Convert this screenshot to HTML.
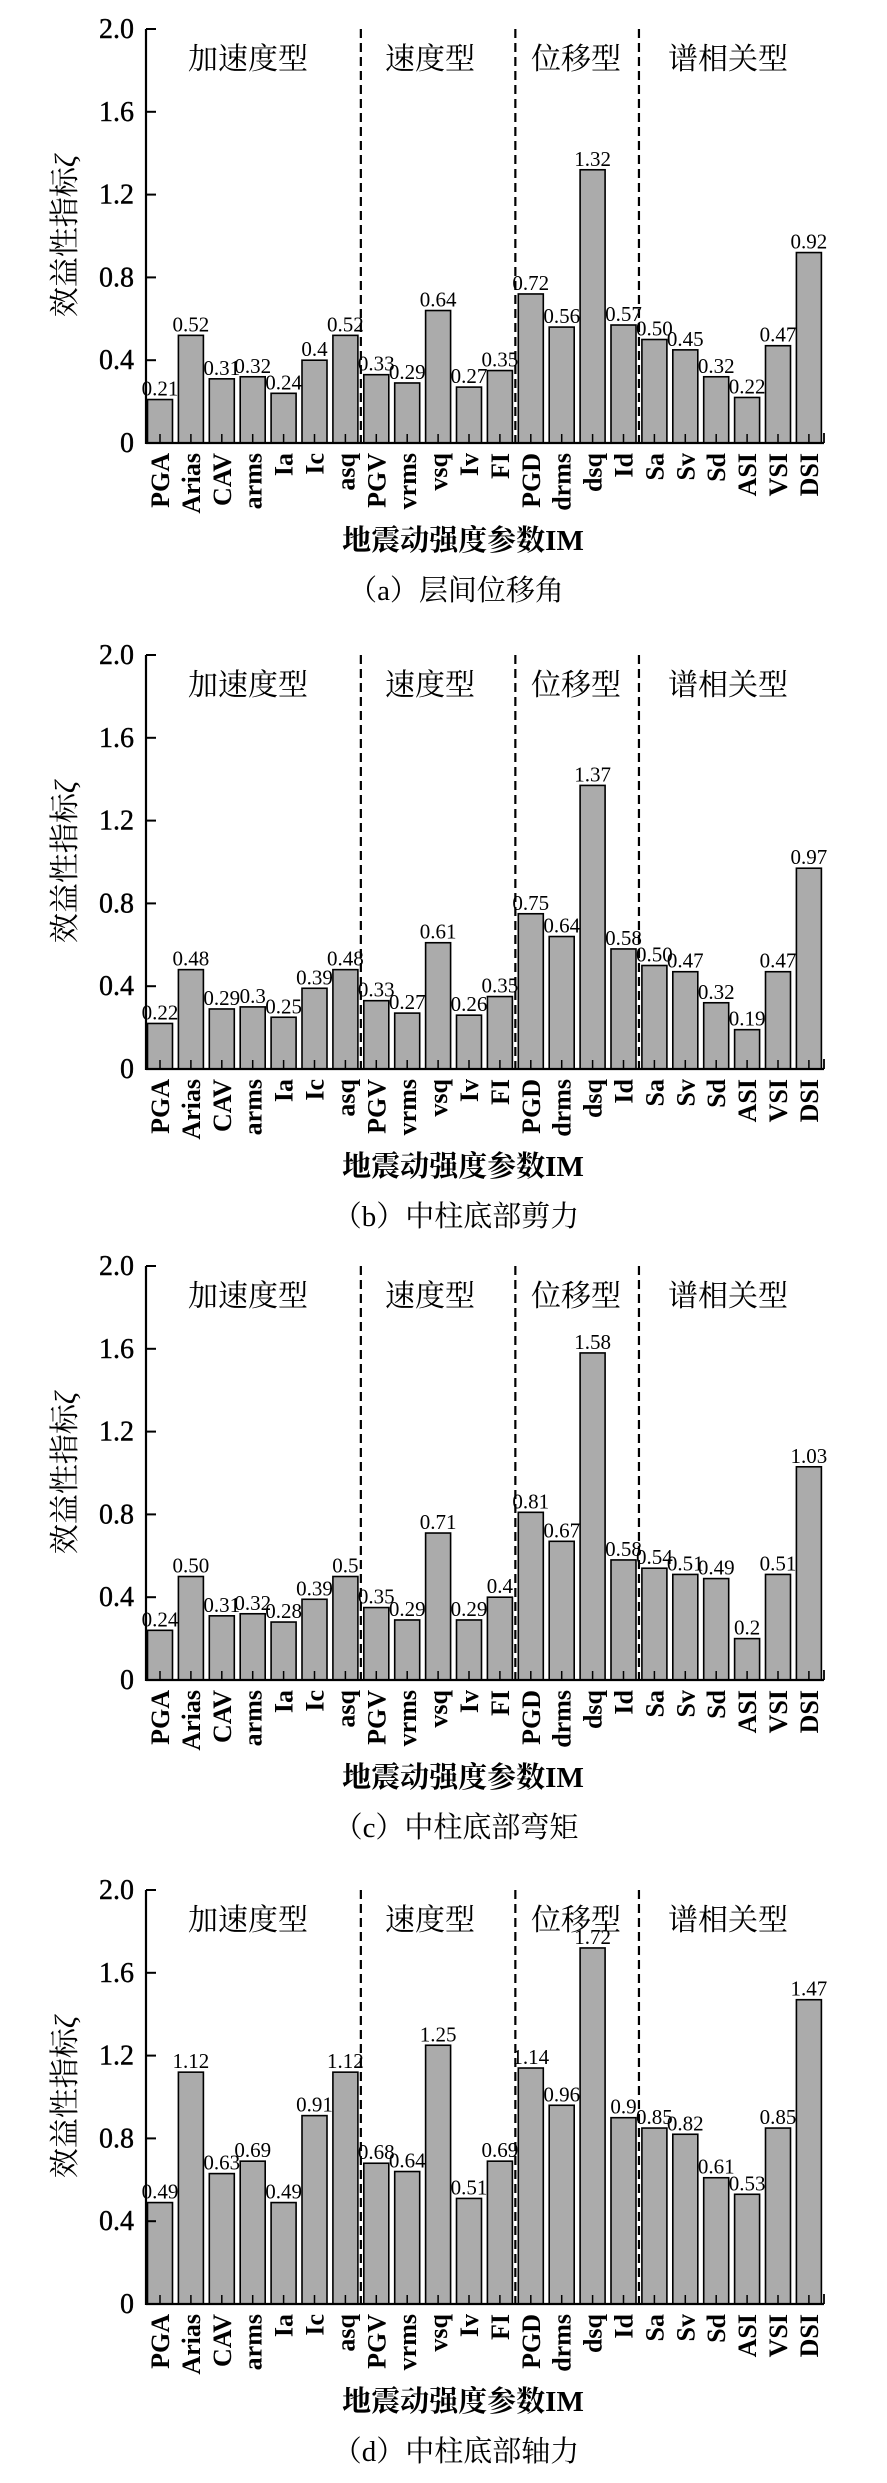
<!DOCTYPE html>
<html><head><meta charset="utf-8"><style>
html,body{margin:0;padding:0;background:#fff}
svg{display:block}
text{font-family:"Liberation Serif","Noto Serif CJK SC",serif;fill:#000}
</style></head><body>
<svg id="s" width="887" height="2483" viewBox="0 0 887 2483" xmlns="http://www.w3.org/2000/svg"></svg>
<script>
var names=["PGA","Arias","CAV","arms","Ia","Ic","asq","PGV","vrms","vsq","Iv","FI","PGD","drms","dsq","Id","Sa","Sv","Sd","ASI","VSI","DSI"];
var data=[
["0.21","0.52","0.31","0.32","0.24","0.4","0.52","0.33","0.29","0.64","0.27","0.35","0.72","0.56","1.32","0.57","0.50","0.45","0.32","0.22","0.47","0.92"],
["0.22","0.48","0.29","0.3","0.25","0.39","0.48","0.33","0.27","0.61","0.26","0.35","0.75","0.64","1.37","0.58","0.50","0.47","0.32","0.19","0.47","0.97"],
["0.24","0.50","0.31","0.32","0.28","0.39","0.5","0.35","0.29","0.71","0.29","0.4","0.81","0.67","1.58","0.58","0.54","0.51","0.49","0.2","0.51","1.03"],
["0.49","1.12","0.63","0.69","0.49","0.91","1.12","0.68","0.64","1.25","0.51","0.69","1.14","0.96","1.72","0.9","0.85","0.82","0.61","0.53","0.85","1.47"]];
var caps=["（a）层间位移角","（b）中柱底部剪力","（c）中柱底部弯矩","（d）中柱底部轴力"];
var tops=[29,655,1266,1890];
var h=[];
var X0=146,X1=824,P=30.9,C0=160;
for(var p=0;p<4;p++){
 var T=tops[p],B=T+414,S=207;
 for(var i=0;i<22;i++){
  var v=parseFloat(data[p][i]),cx=C0+P*i,y=B-v*S;
  h.push('<rect x="'+(cx-12.5)+'" y="'+y+'" width="25" height="'+(B-y)+'" fill="#ababab" stroke="#000" stroke-width="1.6"/>');
  h.push('<text x="'+cx+'" y="'+(y-4)+'" font-size="21" text-anchor="middle">'+data[p][i]+'</text>');
  h.push('<line x1="'+cx+'" y1="'+B+'" x2="'+cx+'" y2="'+(B-9)+'" stroke="#000" stroke-width="1.5"/>');
  h.push('<text transform="translate('+(cx+9)+','+(B+10)+') rotate(-90)" font-size="26" font-weight="bold" text-anchor="end">'+names[i]+'</text>');
 }
 [6,11,15].forEach(function(k){var x=C0+P*k+P/2;
  h.push('<line x1="'+x+'" y1="'+T+'" x2="'+x+'" y2="'+B+'" stroke="#000" stroke-width="2.2" stroke-dasharray="9,5"/>');});
 h.push('<line x1="'+X0+'" y1="'+T+'" x2="'+X0+'" y2="'+(B+1)+'" stroke="#000" stroke-width="2.2"/>');
 h.push('<line x1="'+X0+'" y1="'+B+'" x2="'+X1+'" y2="'+B+'" stroke="#000" stroke-width="2.2"/>');
 h.push('<line x1="'+X1+'" y1="'+B+'" x2="'+X1+'" y2="'+(B-10)+'" stroke="#000" stroke-width="1.8"/>');
 var tl=["0","0.4","0.8","1.2","1.6","2.0"];
 for(var j=0;j<6;j++){var ty=B-j*0.4*S;
  h.push('<line x1="'+X0+'" y1="'+ty+'" x2="'+(X0+10)+'" y2="'+ty+'" stroke="#000" stroke-width="2"/>');
  h.push('<text x="134" y="'+(ty+9)+'" font-size="28" text-anchor="end" stroke="#000" stroke-width="0.4">'+tl[j]+'</text>');}
 var cl=[["加速度型",248],["速度型",430],["位移型",576],["谱相关型",728]];
 cl.forEach(function(c){h.push('<text x="'+c[1]+'" y="'+(T+40)+'" font-size="30" text-anchor="middle">'+c[0]+'</text>');});
 h.push('<text transform="translate(75,'+(T+207)+') rotate(-90)" font-size="30" text-anchor="middle">效益性指标<tspan font-style="italic">ζ</tspan></text>');
 h.push('<text x="463" y="'+(B+107)+'" font-size="29" font-weight="bold" text-anchor="middle">地震动强度参数IM</text>');
 h.push('<text x="456" y="'+(B+157)+'" font-size="29" text-anchor="middle">'+caps[p]+'</text>');
}
document.getElementById('s').innerHTML=h.join('');
</script>
</body></html>
